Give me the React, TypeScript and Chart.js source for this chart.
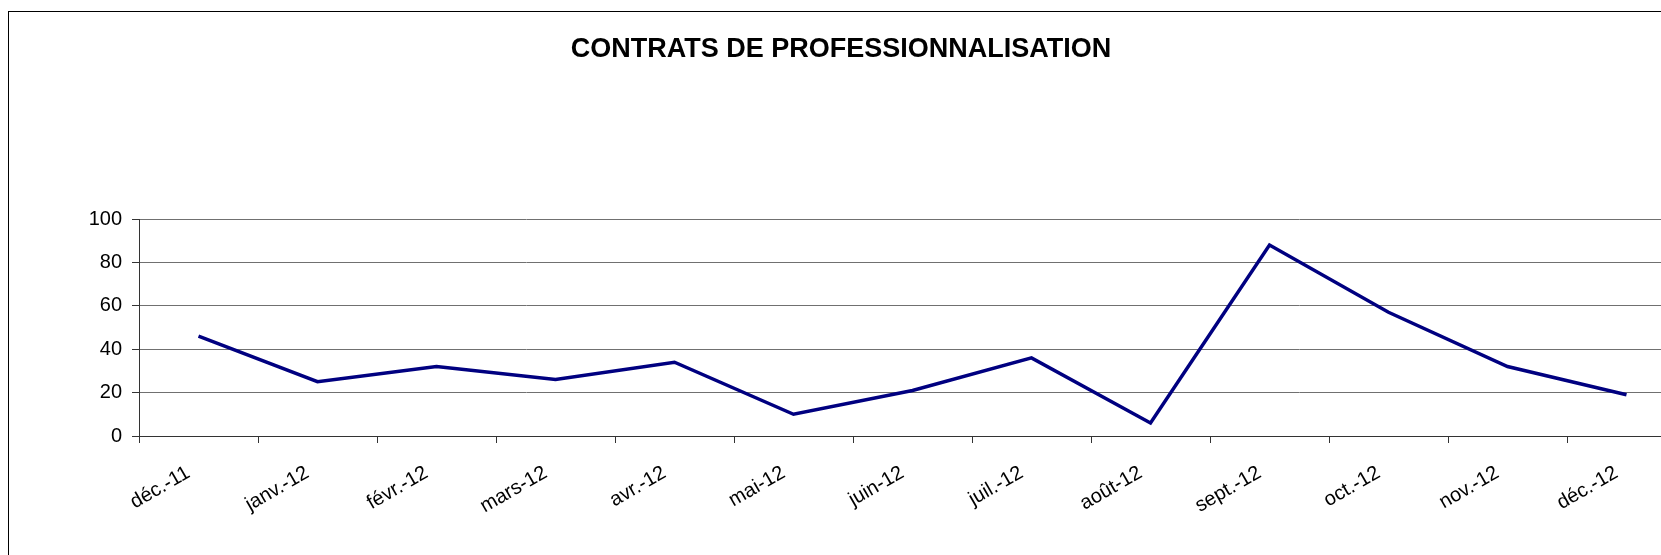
import React, { useEffect, useRef } from "react";
import { Chart, registerables } from "chart.js";

Chart.register(...registerables);

const TITLE = "CONTRATS DE PROFESSIONNALISATION";
const categories = [
  "déc.-11",
  "janv.-12",
  "févr.-12",
  "mars-12",
  "avr.-12",
  "mai-12",
  "juin-12",
  "juil.-12",
  "août-12",
  "sept.-12",
  "oct.-12",
  "nov.-12",
  "déc.-12",
];
const contrats = [46, 25, 32, 26, 34, 10, 21, 36, 6, 88, 57, 32, 19];
const yMin = 0;
const yMax = 100;
const yStep = 20;

const FONT = "'Liberation Sans', Arial, Helvetica, sans-serif";

export default function App() {
  const ref = useRef<HTMLCanvasElement | null>(null);

  useEffect(() => {
    if (!ref.current) return;
    const chart = new Chart(ref.current, {
      type: "line",
      data: {
        labels: categories,
        datasets: [
          {
            label: TITLE,
            data: contrats,
            borderColor: "#000080",
            backgroundColor: "#000080",
            borderWidth: 3.5,
            pointRadius: 0,
            pointHoverRadius: 0,
            tension: 0,
            fill: false,
          },
        ],
      },
      options: {
        responsive: false,
        animation: false,
        layout: { padding: { left: 0, right: 10, top: 0, bottom: 0 } },
        plugins: {
          legend: { display: false },
          tooltip: { enabled: false },
          title: {
            display: true,
            text: TITLE,
            color: "#000",
            font: { family: FONT, size: 27, weight: "bold", lineHeight: 1.2 },
            padding: { top: 33, bottom: 153.6 },
          },
        },
        scales: {
          x: {
            type: "category",
            offset: true,
            grid: {
              display: true,
              drawOnChartArea: false,
              drawTicks: true,
              tickLength: 7,
              offset: true,
              color: "#333",
              tickColor: "#333",
            },
            border: { display: true, color: "#333", width: 1 },
            ticks: {
              autoSkip: false,
              minRotation: 30,
              maxRotation: 30,
              padding: 18,
              labelOffset: -10,
              color: "#000",
              font: { family: FONT, size: 20 },
            },
            afterFit: (scale: any) => {
              scale.height = 164;
            },
          },
          y: {
            min: yMin,
            max: yMax,
            ticks: {
              stepSize: yStep,
              padding: 10,
              color: "#000",
              font: { family: FONT, size: 20 },
            },
            grid: {
              color: "#707070",
              lineWidth: 1,
              drawTicks: true,
              tickLength: 7,
              tickColor: "#333",
            },
            border: { display: true, color: "#333", width: 1 },
            afterFit: (scale: any) => {
              scale.width = 143;
            },
          },
        },
      },
    });
    return () => chart.destroy();
  }, []);

  return (
    <div
      style={{
        position: "fixed",
        left: 0,
        top: 0,
        width: 1661,
        height: 555,
        overflow: "hidden",
        background: "#fff",
      }}
    >
      <canvas
        ref={ref}
        width={1700}
        height={600}
        style={{ position: "absolute", left: -4, top: 0, width: 1700, height: 600 }}
      />
      <div
        style={{
          position: "absolute",
          left: 8,
          top: 11,
          width: 1700,
          height: 600,
          border: "1px solid #000",
          pointerEvents: "none",
        }}
      />
    </div>
  );
}
